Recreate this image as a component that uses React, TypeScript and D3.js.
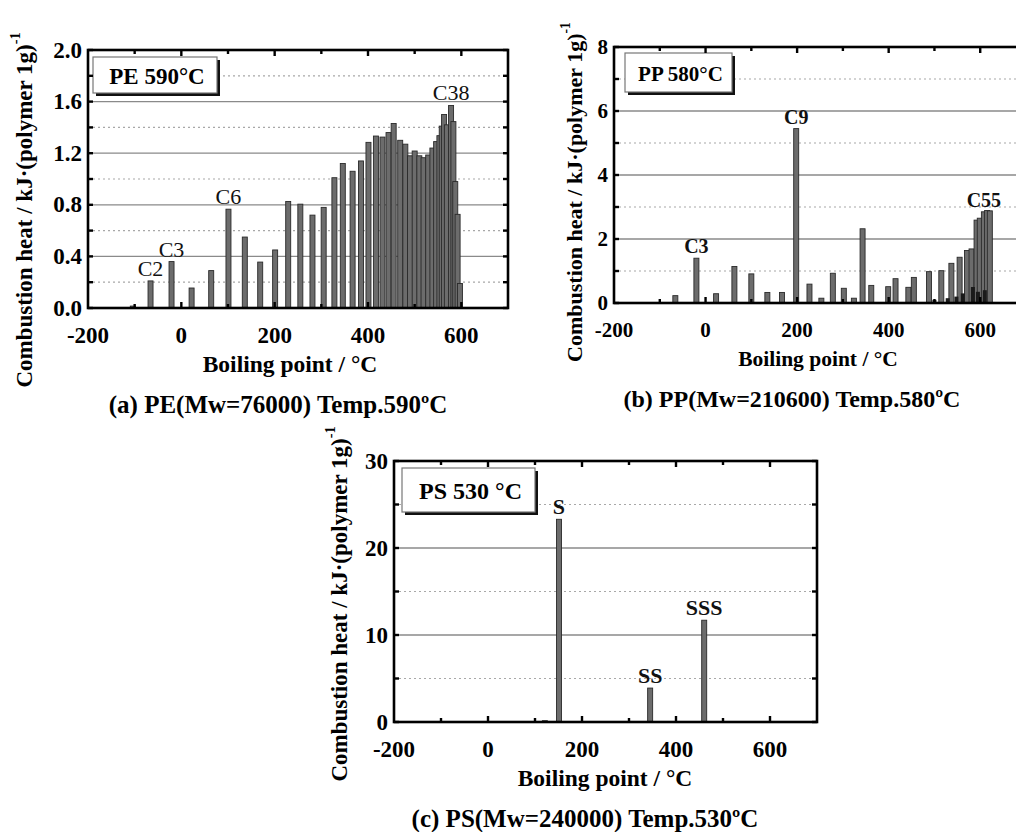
import React from 'react';
import * as d3 from 'd3';

// ---------- DATA ----------
const X_TICK_VALUES = [-200, 0, 200, 400, 600];

// (a) PE 590 °C
const PE_bp = [-104, -66, -21, 22, 64, 101, 136, 169, 201, 229, 255, 281, 305, 328, 346, 367, 385, 401, 417, 431, 444, 455, 469, 480, 490, 500, 510, 519, 529, 538, 546, 553, 558, 563, 569, 578, 583, 587, 592, 597];
const PE_heat = [0.015, 0.21, 0.36, 0.155, 0.29, 0.766, 0.55, 0.356, 0.45, 0.826, 0.805, 0.72, 0.78, 1.01, 1.12, 1.06, 1.14, 1.284, 1.333, 1.325, 1.36, 1.43, 1.30, 1.27, 1.18, 1.217, 1.18, 1.165, 1.186, 1.24, 1.29, 1.336, 1.41, 1.50, 1.42, 1.57, 1.445, 0.98, 0.726, 0.19];
const PE_labelBp = [-66, -21, 101, 578];
const PE_labelText = ['C2', 'C3', 'C6', 'C38'];
const PE_yTicks = [0, 0.4, 0.8, 1.2, 1.6, 2.0];
const PE_yTickText = ['0.0', '0.4', '0.8', '1.2', '1.6', '2.0'];

// (b) PP 580 °C
const PP_bp = [-66, -20, 23, 63, 100, 135, 167, 198, 227, 253, 278, 302, 324, 343, 362, 399, 415, 443, 455, 488, 515, 537, 555, 571, 581, 592, 599, 608, 615, 621];
const PP_heat = [0.23, 1.40, 0.29, 1.14, 0.91, 0.33, 0.33, 5.45, 0.59, 0.15, 0.93, 0.46, 0.15, 2.32, 0.55, 0.51, 0.76, 0.49, 0.80, 0.98, 1.01, 1.24, 1.43, 1.64, 1.69, 2.59, 2.65, 2.85, 2.89, 2.88];
const PP_minorBp = [500, 529, 548, 562, 584, 595, 610];
const PP_minorHeat = [0.1, 0.15, 0.2, 0.3, 0.5, 0.35, 0.4];
const PP_labelBp = [-20, 198, 608];
const PP_labelText = ['C3', 'C9', 'C55'];
const PP_yTicks = [0, 2, 4, 6, 8];
const PP_yTickText = ['0', '2', '4', '6', '8'];

// (c) PS 530 °C
const PS_bp = [121, 151, 345, 460];
const PS_heat = [0.15, 23.3, 3.9, 11.7];
const PS_labelBp = [151, 345, 460];
const PS_labelText = ['S', 'SS', 'SSS'];
const PS_yTicks = [0, 10, 20, 30];
const PS_yTickText = ['0', '10', '20', '30'];

// ---------- LAYOUT / STYLE ----------
const FONT = '"Liberation Serif", "Times New Roman", "DejaVu Serif", serif';

type Cfg = {
  left: number; right: number; top: number; bottom: number;
  yMax: number; yMajor: number;
  yTicks: number[]; yTickText: string[];
  bp: number[]; heat: number[];
  minorBp?: number[]; minorHeat?: number[];
  labelBp: number[]; labelText: string[];
  legend: string; legendBox: [number, number, number, number]; legendFont: number;
  tickFont: number; titleFont: number; titleX: number;
  yLabelX: number; yLabelY: number; yLabelFont: number;
  caption: string; captionX: number; captionFont: number;
  barLabelFont: number; barLabelWeight: string;
};

const PANELS: Cfg[] = [
  {
    left: 88, right: 508, top: 50, bottom: 308, yMax: 2.0, yMajor: 0.4,
    yTicks: PE_yTicks, yTickText: PE_yTickText, bp: PE_bp, heat: PE_heat,
    labelBp: PE_labelBp, labelText: PE_labelText,
    legend: 'PE 590°C', legendBox: [5, 7, 124, 36], legendFont: 23,
    tickFont: 23, titleFont: 23.5, titleX: 290,
    yLabelX: 24, yLabelY: 210, yLabelFont: 23,
    caption: '(a) PE(Mw=76000) Temp.590ºC', captionX: 278, captionFont: 25,
    barLabelFont: 22, barLabelWeight: 'normal',
  },
  {
    left: 614, right: 1026, top: 47, bottom: 303, yMax: 8, yMajor: 2,
    yTicks: PP_yTicks, yTickText: PP_yTickText, bp: PP_bp, heat: PP_heat,
    minorBp: PP_minorBp, minorHeat: PP_minorHeat,
    labelBp: PP_labelBp, labelText: PP_labelText,
    legend: 'PP 580°C', legendBox: [11, 6, 107, 39], legendFont: 21,
    tickFont: 21, titleFont: 21.5, titleX: 818,
    yLabelX: 574, yLabelY: 192, yLabelFont: 22,
    caption: '(b) PP(Mw=210600) Temp.580ºC', captionX: 792, captionFont: 24,
    barLabelFont: 20, barLabelWeight: 'bold',
  },
  {
    left: 394, right: 817, top: 461, bottom: 722, yMax: 30, yMajor: 10,
    yTicks: PS_yTicks, yTickText: PS_yTickText, bp: PS_bp, heat: PS_heat,
    labelBp: PS_labelBp, labelText: PS_labelText,
    legend: 'PS 530 °C', legendBox: [8, 7, 133, 44], legendFont: 24,
    tickFont: 23, titleFont: 23.5, titleX: 605,
    yLabelX: 339, yLabelY: 604, yLabelFont: 23,
    caption: '(c) PS(Mw=240000) Temp.530ºC', captionX: 585, captionFont: 25,
    barLabelFont: 22, barLabelWeight: 'bold',
  },
];

const BAR_W = 5;

function Panel({ p }: { p: Cfg }) {
  const x = d3.scaleLinear().domain([-200, 700]).range([p.left, p.right]);
  const y = d3.scaleLinear().domain([0, p.yMax]).range([p.bottom, p.top]);
  const half = p.yMajor / 2;
  const majors = p.yTicks.filter((v) => v > 0 && v < p.yMax);
  const minors = d3.range(half, p.yMax, p.yMajor);
  const allY = d3.range(0, p.yMax + 1e-9, half);
  const xTicks = d3.range(-100, 700, 100);
  const [lx, ly, lw, lh] = p.legendBox;
  const bx = p.left + lx;
  const by = p.top + ly;

  return (
    <g fontFamily={FONT}>
      {/* grid */}
      {majors.map((v) => (
        <line key={'gM' + v} x1={p.left} x2={p.right} y1={y(v)} y2={y(v)} stroke="#8a8a8a" strokeWidth={1.3} />
      ))}
      {minors.map((v) => (
        <line key={'gm' + v} x1={p.left} x2={p.right} y1={y(v)} y2={y(v)} stroke="#a8a8a8" strokeWidth={1.2} strokeDasharray="2,3" />
      ))}
      {/* legend box */}
      <rect x={bx + 3} y={by + 3} width={lw} height={lh} fill="#111" />
      <rect x={bx} y={by} width={lw} height={lh} fill="#fff" stroke="#777" strokeWidth={1.2} />
      <text x={bx + lw / 2 + 2} y={by + lh / 2 + 1} textAnchor="middle" dominantBaseline="central" fontWeight="bold" fontSize={p.legendFont}>
        {p.legend}
      </text>
      {/* bars */}
      {p.bp.map((b, i) => (
        <rect key={'b' + i} x={x(b) - BAR_W / 2} y={y(p.heat[i])} width={BAR_W} height={y(0) - y(p.heat[i])} fill="#6c6c6c" stroke="#2a2a2a" strokeWidth={0.9} />
      ))}
      {(p.minorBp || []).map((b, i) => (
        <rect key={'mb' + i} x={x(b) - 2} y={y(p.minorHeat![i])} width={4} height={y(0) - y(p.minorHeat![i])} fill="#1a1a1a" />
      ))}
      {/* bar labels */}
      {p.labelBp.map((b, i) => {
        const idx = p.bp.indexOf(b);
        const v = p.heat[idx];
        return (
          <text key={'bl' + i} x={x(b)} y={y(v) - 5} textAnchor="middle" fontSize={p.barLabelFont} fontWeight={p.barLabelWeight} fill="#111">
            {p.labelText[i]}
          </text>
        );
      })}
      {/* frame */}
      <rect x={p.left} y={p.top} width={p.right - p.left} height={p.bottom - p.top} fill="none" stroke="#000" strokeWidth={2.6} />
      {/* x ticks */}
      {xTicks.map((t) => {
        const len = t % 200 === 0 ? 6 : 4;
        return (
          <g key={'xt' + t}>
            <line x1={x(t)} x2={x(t)} y1={p.bottom} y2={p.bottom - len} stroke="#000" strokeWidth={2.4} />
            <line x1={x(t)} x2={x(t)} y1={p.top} y2={p.top + len} stroke="#000" strokeWidth={2.4} />
          </g>
        );
      })}
      {/* y ticks */}
      {allY.map((v, i) => (
        <g key={'yt' + i}>
          <line x1={p.left} x2={p.left + 5} y1={y(v)} y2={y(v)} stroke="#000" strokeWidth={2.4} />
          <line x1={p.right} x2={p.right - 5} y1={y(v)} y2={y(v)} stroke="#000" strokeWidth={2.4} />
        </g>
      ))}
      {/* tick labels */}
      {p.yTicks.map((v, i) => (
        <text key={'yl' + i} x={p.left - 6} y={y(v)} textAnchor="end" dominantBaseline="central" fontWeight="bold" fontSize={p.tickFont}>
          {p.yTickText[i]}
        </text>
      ))}
      {X_TICK_VALUES.map((t) => (
        <text key={'xl' + t} x={x(t)} y={p.bottom + 27} textAnchor="middle" dominantBaseline="central" fontWeight="bold" fontSize={p.tickFont}>
          {t}
        </text>
      ))}
      {/* axis titles */}
      <text x={p.titleX} y={p.bottom + 56} textAnchor="middle" dominantBaseline="central" fontWeight="bold" fontSize={p.titleFont}>
        Boiling point / °C
      </text>
      <text transform={`translate(${p.yLabelX},${p.yLabelY}) rotate(-90)`} textAnchor="middle" dominantBaseline="central" fontWeight="bold" fontSize={p.yLabelFont}>
        Combustion heat / kJ·(polymer 1g)
        <tspan fontSize={p.yLabelFont * 0.62} dy={-p.yLabelFont * 0.4}>-1</tspan>
      </text>
      {/* caption */}
      <text x={p.captionX} y={p.bottom + 96} textAnchor="middle" dominantBaseline="central" fontWeight="bold" fontSize={p.captionFont}>
        {p.caption}
      </text>
    </g>
  );
}

export default function App() {
  return (
    <svg width={1016} height={832} style={{ position: 'absolute', left: 0, top: 0, background: '#fff' }}>
      <rect x={0} y={0} width={1016} height={832} fill="#fff" />
      {PANELS.map((p, i) => (
        <Panel key={i} p={p} />
      ))}
    </svg>
  );
}
